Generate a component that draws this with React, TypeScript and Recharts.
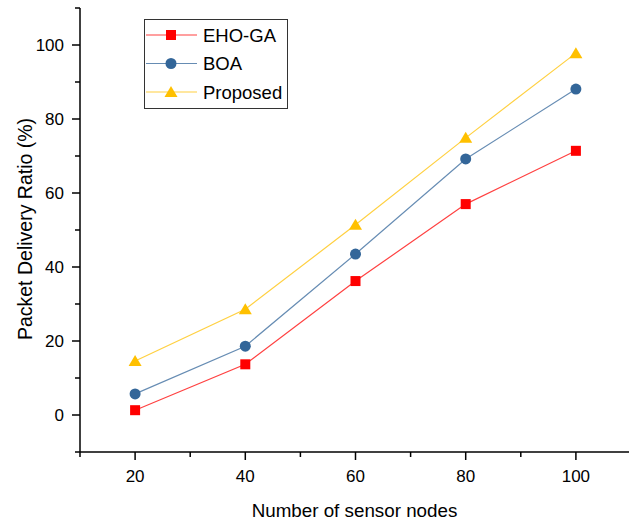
import { LineChart, Line, XAxis, YAxis, Legend } from 'recharts';

const nodes = [20, 40, 60, 80, 100];
const ehoGa = [1.3, 13.7, 36.2, 57.0, 71.4];
const boa = [5.7, 18.6, 43.5, 69.2, 88.1];
const proposed = [14.6, 28.6, 51.4, 74.9, 97.8];

const xTicks = [10, 20, 30, 40, 50, 60, 70, 80, 90, 100, 110];
const xLabels = [20, 40, 60, 80, 100];
const yTicks = [-10, 0, 10, 20, 30, 40, 50, 60, 70, 80, 90, 100, 110];
const yLabels = [0, 20, 40, 60, 80, 100];

const data = nodes.map((n, i) => ({
    n,
    ehoGa: ehoGa[i],
    boa: boa[i],
    proposed: proposed[i],
}));

const series = [
    { key: 'ehoGa', name: 'EHO-GA', color: '#ff0000', shape: 'square' },
    { key: 'boa', name: 'BOA', color: '#336699', shape: 'circle' },
    { key: 'proposed', name: 'Proposed', color: '#ffc000', shape: 'triangle' },
];

const font = '"Liberation Sans", Arial, sans-serif';

function Marker({ shape, cx, cy, color }: any) {
    if (shape === 'square') {
        return <rect x={cx - 5} y={cy - 5} width={10} height={10} fill={color} />;
    }
    if (shape === 'triangle') {
        return (
            <polygon
                points={`${cx},${cy - 6} ${cx + 6.5},${cy + 5} ${cx - 6.5},${cy + 5}`}
                fill={color}
            />
        );
    }
    return <circle cx={cx} cy={cy} r={5.5} fill={color} />;
}

function XTick({ x, y, payload }: any) {
    const major = xLabels.includes(payload.value);
    return (
        <g>
            <line x1={x} y1={y} x2={x} y2={y + (major ? 8 : 5)} stroke="#000" strokeWidth={1.5} />
            {major && (
                <text x={x} y={y + 30} textAnchor="middle" fontSize={17} fontFamily={font} fill="#000">
                    {payload.value}
                </text>
            )}
        </g>
    );
}

function YTick({ x, y, payload }: any) {
    const major = yLabels.includes(payload.value);
    return (
        <g>
            <line x1={x - (major ? 8 : 5)} y1={y} x2={x} y2={y} stroke="#000" strokeWidth={1.5} />
            {major && (
                <text x={x - 16} y={y + 6} textAnchor="end" fontSize={17} fontFamily={font} fill="#000">
                    {payload.value}
                </text>
            )}
        </g>
    );
}

function LegendBox() {
    return (
        <svg width={144} height={90} style={{ display: 'block' }}>
            <rect x={0.5} y={0.5} width={143} height={89} fill="#fff" stroke="#333" strokeWidth={1} />
            {series.map((s, i) => {
                const cy = 16 + i * 28.5;
                return (
                    <g key={s.key}>
                        <line x1={2} y1={cy} x2={53} y2={cy} stroke={s.color} strokeOpacity={0.75} strokeWidth={1.2} />
                        <Marker shape={s.shape} cx={27} cy={cy} color={s.color} />
                        <text x={59} y={cy + 6.5} fontSize={18.5} fontFamily={font} fill="#000">
                            {s.name}
                        </text>
                    </g>
                );
            })}
        </svg>
    );
}

export default function App() {
    return (
        <div style={{ position: 'absolute', left: 0, top: 0, width: 629, height: 525, overflow: 'hidden', background: '#fff' }}>
            <LineChart width={631} height={525} data={data} margin={{ top: 8, right: 0, left: 0, bottom: 0 }}>
                <XAxis
                    dataKey="n"
                    type="number"
                    domain={[10, 110]}
                    ticks={xTicks}
                    interval={0}
                    height={73}
                    tickSize={0}
                    tickMargin={0}
                    tickLine={false}
                    axisLine={{ stroke: '#000', strokeWidth: 1.5 }}
                    tick={<XTick />}
                    label={{
                        content: ({ viewBox }: any) => (
                            <text
                                x={viewBox.x + viewBox.width / 2 - 1}
                                y={viewBox.y + 65}
                                textAnchor="middle"
                                fontSize={18.8}
                                fontFamily={font}
                                fill="#000"
                            >
                                Number of sensor nodes
                            </text>
                        ),
                    }}
                />
                <YAxis
                    type="number"
                    domain={[-10, 110]}
                    ticks={yTicks}
                    interval={0}
                    width={80}
                    tickSize={0}
                    tickMargin={0}
                    tickLine={false}
                    axisLine={{ stroke: '#000', strokeWidth: 1.5 }}
                    tick={<YTick />}
                    label={{
                        content: ({ viewBox }: any) => (
                            <text
                                transform={`translate(32, ${viewBox.y + viewBox.height / 2 - 1}) rotate(-90)`}
                                textAnchor="middle"
                                fontSize={19.5}
                                fontFamily={font}
                                fill="#000"
                            >
                                Packet Delivery Ratio (%)
                            </text>
                        ),
                    }}
                />
                <Legend
                    layout="vertical"
                    align="center"
                    verticalAlign="middle"
                    content={() => <LegendBox />}
                    wrapperStyle={{ left: 144, top: 19, width: 144, height: 90 }}
                />
                {series.map((s) => (
                    <Line
                        key={s.key}
                        dataKey={s.key}
                        name={s.name}
                        stroke={s.color}
                        strokeOpacity={0.75}
                        strokeWidth={1.2}
                        isAnimationActive={false}
                        dot={(p: any) => (
                            <Marker key={p.index} shape={s.shape} cx={p.cx} cy={p.cy} color={s.color} />
                        )}
                        activeDot={false}
                    />
                ))}
            </LineChart>
        </div>
    );
}
